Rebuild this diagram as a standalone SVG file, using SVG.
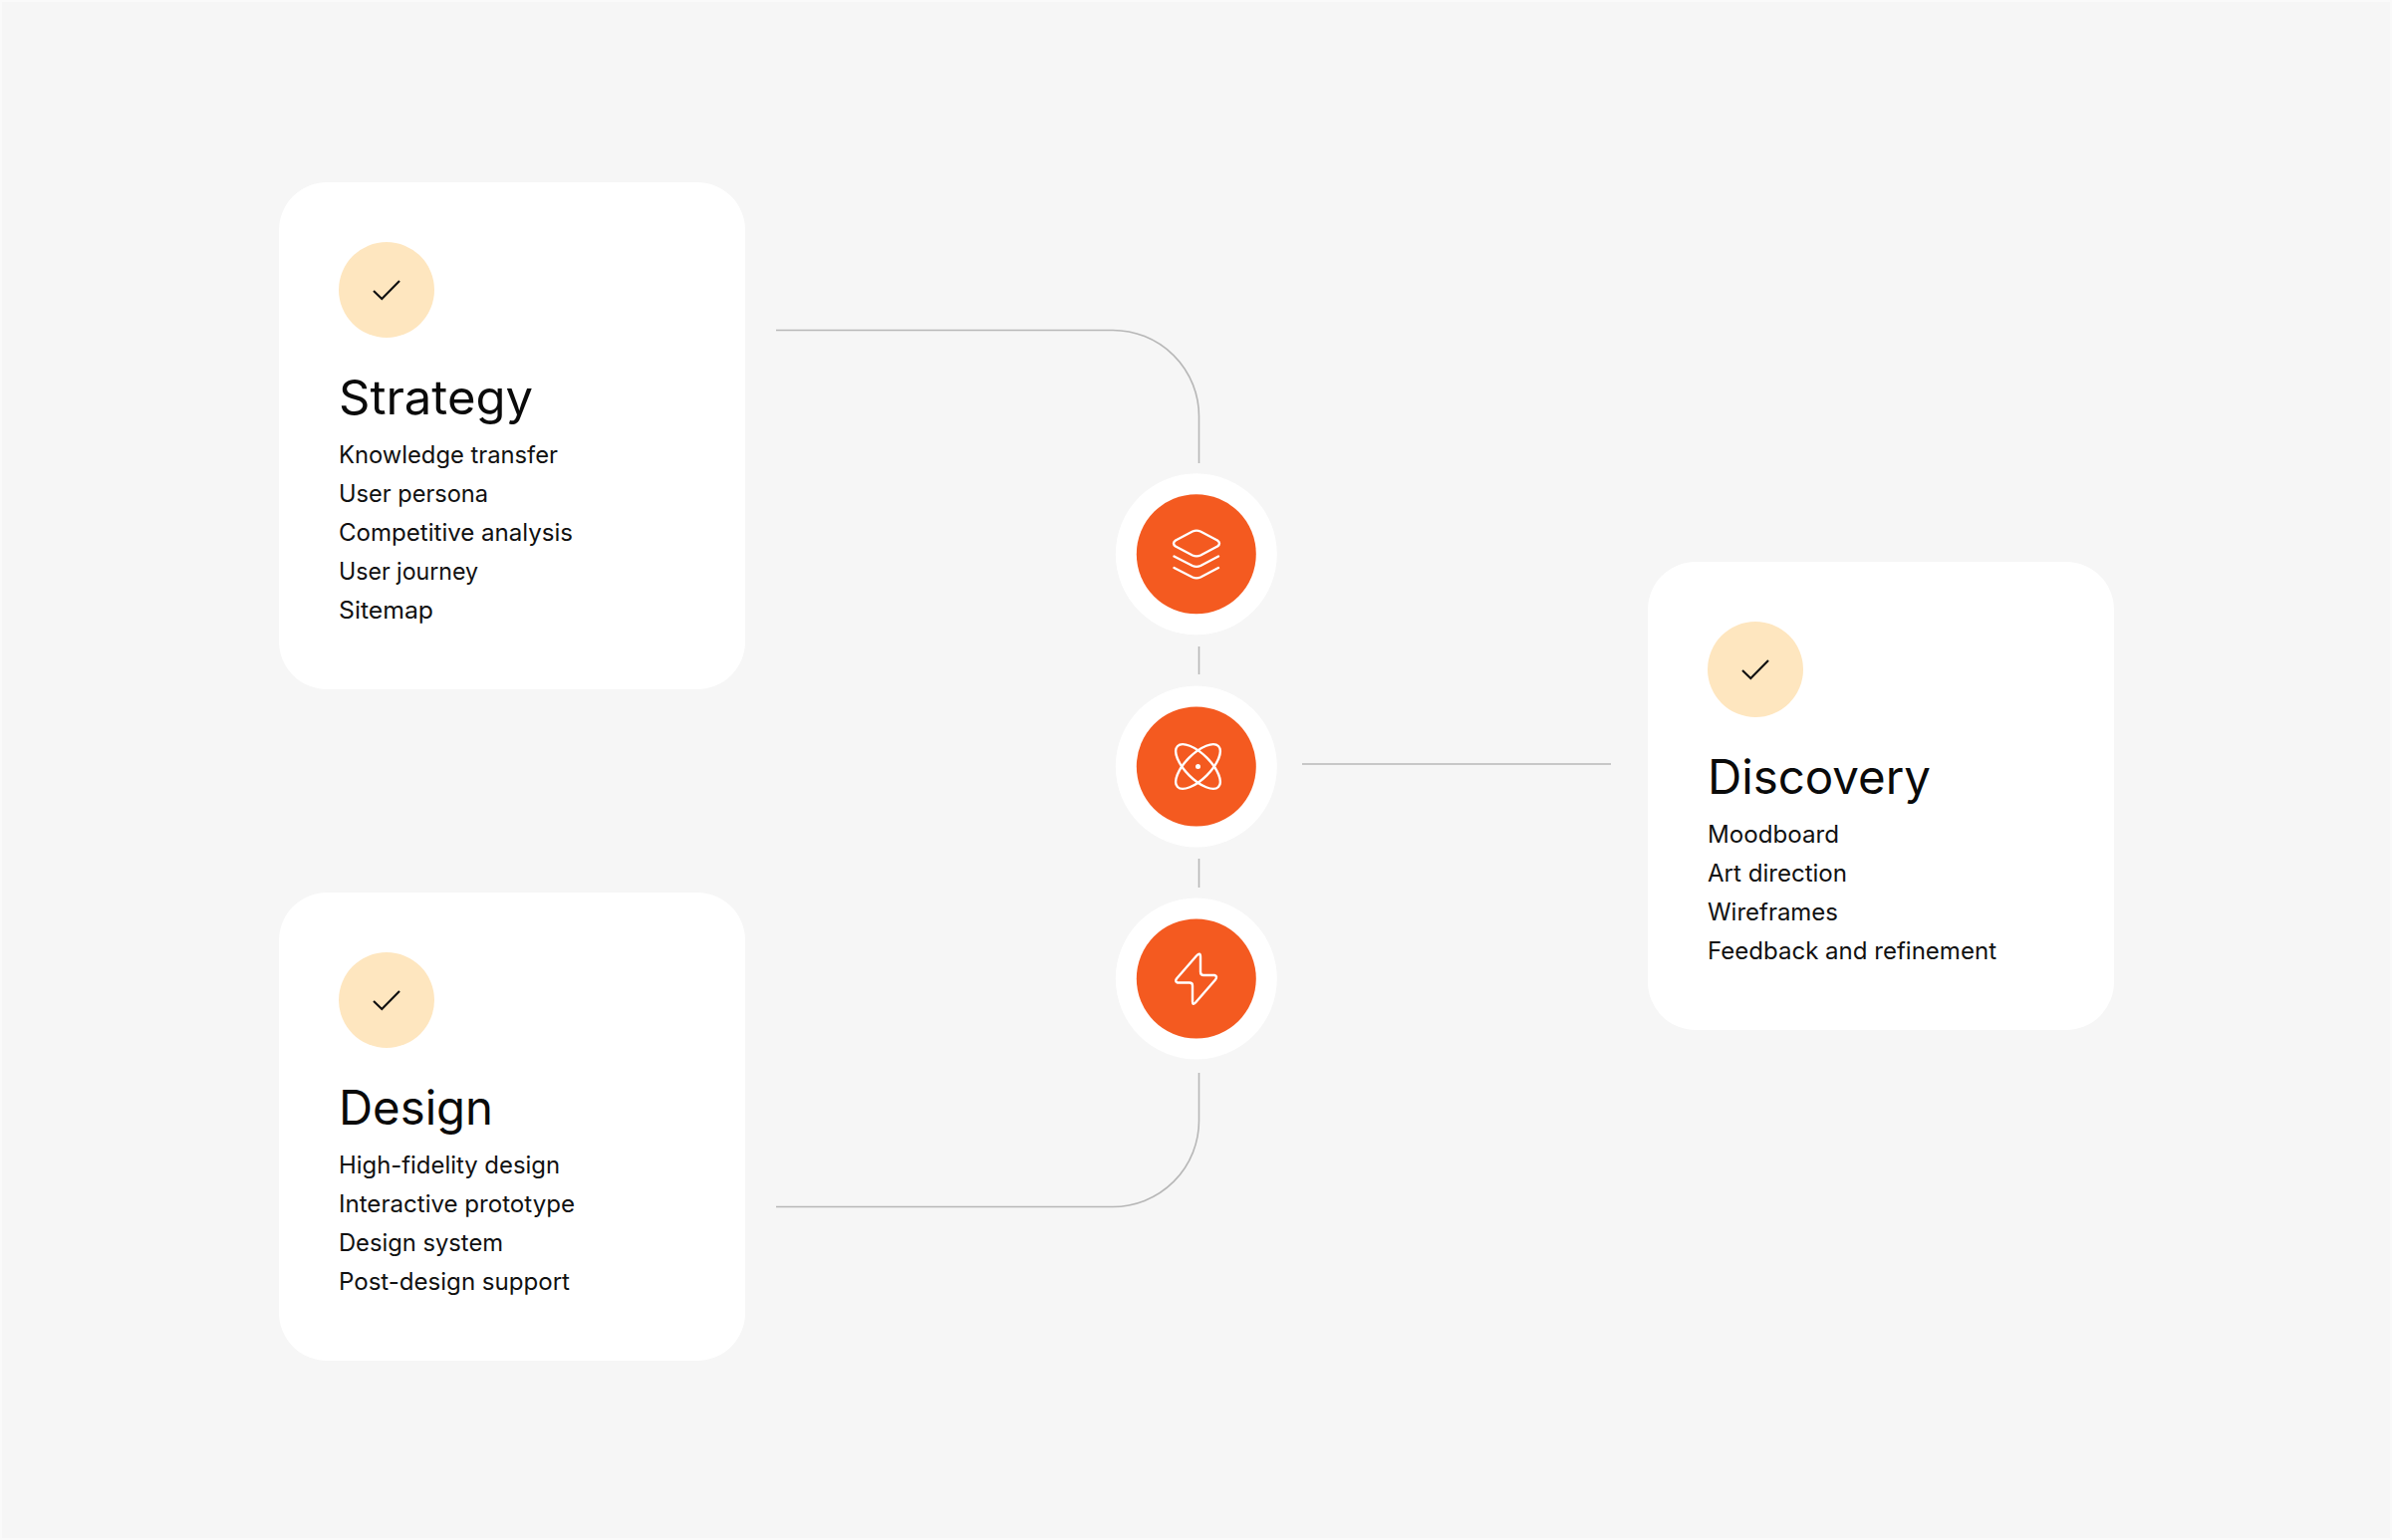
<svg xmlns="http://www.w3.org/2000/svg" width="2401" height="1546" viewBox="0 0 2401 1546">
<style>
.card{fill:#fff}
.badge{fill:#fee6bf}
.check{fill:none;stroke:#111;stroke-width:2.2}
.title{font-family:Inter,"Liberation Sans",sans-serif;font-size:47.5px;fill:#0a0a0a}
.item{font-family:Inter,"Liberation Sans",sans-serif;font-size:24px;fill:#111}
.conn{fill:none;stroke:#b7b7b7;stroke-width:1.6}
.halo{fill:#fff}
.disc{fill:#f45a20}
.ico{fill:none;stroke:#fff;stroke-width:2.4;stroke-linecap:round;stroke-linejoin:round}
</style>
<rect x="1" y="1" width="2399" height="1544" fill="#f6f6f6" stroke="#fafafa" stroke-width="2"/>
<g id="connectors">
<path class="conn" d="M779 331.500H1117A86.500 86.500 0 0 1 1203.500 418V465"/>
<path class="conn" d="M1203.500 649V677"/>
<path class="conn" d="M1203.500 862V891"/>
<path class="conn" d="M1307 767H1617"/>
<path class="conn" d="M1203.500 1077V1125A86.500 86.500 0 0 1 1117 1211.500H779"/>
</g>
<g id="strategy">
<rect class="card" x="280" y="183" width="468" height="509" rx="48"/>
<circle class="badge" cx="388" cy="291" r="48"/>
<path class="check" d="M375 292L383.300 300L401 282"/>
<text class="title" x="340" y="416" textLength="195" lengthAdjust="spacingAndGlyphs">Strategy</text>
<text class="item" x="340" y="465" textLength="220" lengthAdjust="spacingAndGlyphs">Knowledge transfer</text>
<text class="item" x="340" y="504" textLength="150" lengthAdjust="spacingAndGlyphs">User persona</text>
<text class="item" x="340" y="543" textLength="235" lengthAdjust="spacingAndGlyphs">Competitive analysis</text>
<text class="item" x="340" y="582" textLength="140" lengthAdjust="spacingAndGlyphs">User journey</text>
<text class="item" x="340" y="621" textLength="95" lengthAdjust="spacingAndGlyphs">Sitemap</text>
</g>
<g id="design">
<rect class="card" x="280" y="896" width="468" height="470" rx="48"/>
<circle class="badge" cx="388" cy="1004" r="48"/>
<path class="check" d="M375 1005L383.300 1013L401 995"/>
<text class="title" x="340" y="1129" textLength="155" lengthAdjust="spacingAndGlyphs">Design</text>
<text class="item" x="340" y="1178" textLength="222" lengthAdjust="spacingAndGlyphs">High-fidelity design</text>
<text class="item" x="340" y="1217" textLength="237" lengthAdjust="spacingAndGlyphs">Interactive prototype</text>
<text class="item" x="340" y="1256" textLength="165" lengthAdjust="spacingAndGlyphs">Design system</text>
<text class="item" x="340" y="1295" textLength="232" lengthAdjust="spacingAndGlyphs">Post-design support</text>
</g>
<g id="discovery">
<rect class="card" x="1654" y="564" width="468" height="470" rx="48"/>
<circle class="badge" cx="1762" cy="672" r="48"/>
<path class="check" d="M1749 673L1757.300 681L1775 663"/>
<text class="title" x="1714" y="797" textLength="224" lengthAdjust="spacingAndGlyphs">Discovery</text>
<text class="item" x="1714" y="846" textLength="132" lengthAdjust="spacingAndGlyphs">Moodboard</text>
<text class="item" x="1714" y="885" textLength="140" lengthAdjust="spacingAndGlyphs">Art direction</text>
<text class="item" x="1714" y="924" textLength="131" lengthAdjust="spacingAndGlyphs">Wireframes</text>
<text class="item" x="1714" y="963" textLength="290" lengthAdjust="spacingAndGlyphs">Feedback and refinement</text>
</g>
<g id="layers">
<circle class="halo" cx="1200.800" cy="556.300" r="81"/>
<circle class="disc" cx="1200.800" cy="556.300" r="60"/>
<path class="ico" d="M1197 533.500Q1201 531.800 1205 533.500L1222 542.500Q1226 545.500 1222 548.500L1205 557.500Q1201 559.200 1197 557.500L1180 548.500Q1176 545.500 1180 542.500Z"/>
<path class="ico" d="M1178.500 558.500L1197 568Q1201 569.800 1205 568L1223 558.500"/>
<path class="ico" d="M1178.500 570L1197 579.500Q1201 581.300 1205 579.500L1223 570"/>
</g>
<g id="atom">
<circle class="halo" cx="1200.800" cy="769.500" r="81"/>
<circle class="disc" cx="1200.800" cy="769.500" r="60"/>
<ellipse class="ico" cx="1202.500" cy="769.500" rx="29" ry="12.500" transform="rotate(45 1202.500 769.500)"/>
<ellipse class="ico" cx="1202.500" cy="769.500" rx="29" ry="12.500" transform="rotate(-45 1202.500 769.500)"/>
<circle cx="1202.500" cy="769.500" r="2.500" fill="#fff"/>
</g>
<g id="bolt">
<circle class="halo" cx="1200.800" cy="982.500" r="81"/>
<circle class="disc" cx="1200.800" cy="982.500" r="60"/>
<path class="ico" d="M1201 959.500Q1205 955.500 1205 960.500L1205 975.500Q1205 979 1208 979L1219 979Q1222.500 980 1220 983.500L1200 1006.500Q1197 1009.500 1197 1005.500L1197 989.500Q1197 986.500 1194 986.500L1182 986.500Q1179 985.500 1181 982.500Z"/>
</g>
</svg>
